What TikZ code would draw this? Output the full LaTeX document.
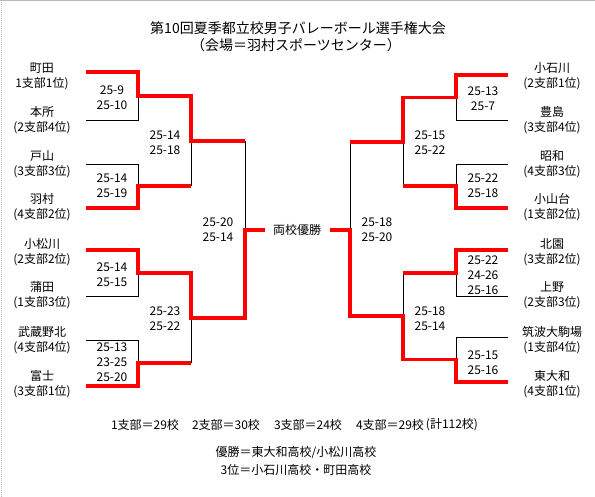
\documentclass[tikz,border=0pt]{standalone}
\usepackage{fontspec}
\setmainfont{Noto Sans CJK JP}
\begin{document}
\begin{tikzpicture}[x=1pt,y=-1pt,
  thin/.style={draw=black,line width=0.9pt},
  win/.style={draw=red,line width=3.6pt,line join=miter,line cap=butt},
  team/.style={align=center,font=\fontsize{12}{15}\selectfont,inner sep=0pt},
  score/.style={align=center,font=\fontsize{12}{15}\selectfont,inner sep=0pt},
  ttl/.style={font=\fontsize{14}{17}\selectfont,inner sep=0pt},
  foot/.style={font=\fontsize{12}{15}\selectfont,inner sep=0pt}]
\useasboundingbox (0,0) rectangle (595,497);
\fill[white] (0,0) rectangle (595,497);
\draw[gray!55,line width=1pt] (0,0.5) -- (595,0.5);
\draw[gray!55,line width=1pt,densely dotted] (1,0) -- (1,497);

% title
\node[ttl] (t1) at (298,28) {第10回夏季都立校男子バレーボール選手権大会};
\node[ttl] (t2) at (296,45) {（会場＝羽村スポーツセンター）};

% left teams
\node[team] (a1) at (42,76) {町田\\1支部1位)};
\node[team] (a2) at (42,120.5) {本所\\(2支部4位)};
\node[team] (a3) at (42,164.5) {戸山\\(3支部3位)};
\node[team] (a4) at (42,207.5) {羽村\\(4支部2位)};
\node[team] (a5) at (42,252.5) {小松川\\(2支部2位)};
\node[team] (a6) at (42,295.5) {蒲田\\(1支部3位)};
\node[team] (a7) at (42,340.5) {武蔵野北\\(4支部4位)};
\node[team] (a8) at (42,384.5) {富士\\(3支部1位)};
% right teams
\node[team] (b1) at (552,76) {小石川\\(2支部1位)};
\node[team] (b2) at (552,120.5) {豊島\\(3支部4位)};
\node[team] (b3) at (552,164.5) {昭和\\(4支部3位)};
\node[team] (b4) at (552,207.5) {小山台\\(1支部2位)};
\node[team] (b5) at (552,252.5) {北園\\(3支部2位)};
\node[team] (b6) at (552,295.5) {上野\\(2支部3位)};
\node[team] (b7) at (552,340.5) {筑波大駒場\\(1支部4位)};
\node[team] (b8) at (552,384.5) {東大和\\(4支部1位)};

\node[team] (champ) at (297,230) {両校優勝};

% left coordinates
\coordinate (la1) at (86,72);   \coordinate (lb1) at (138,72);
\coordinate (la2) at (86,120);  \coordinate (lb2) at (138,120);
\coordinate (la3) at (86,164);  \coordinate (lb3) at (138,164);
\coordinate (la4) at (86,208);  \coordinate (lb4) at (138,208);
\coordinate (la5) at (86,250);  \coordinate (lb5) at (138,250);
\coordinate (la6) at (86,296);  \coordinate (lb6) at (138,296);
\coordinate (la7) at (86,340);  \coordinate (lb7) at (138,340);
\coordinate (la8) at (86,386);  \coordinate (lb8) at (138,386);
\coordinate (lq1) at (138,96);  \coordinate (lq1e) at (191,96);
\coordinate (lq2) at (138,186); \coordinate (lq2e) at (191,186);
\coordinate (lq3) at (138,273); \coordinate (lq3e) at (191,273);
\coordinate (lq4) at (138,363); \coordinate (lq4e) at (191,363);
\coordinate (ls1) at (191,141); \coordinate (ls1e) at (245,141);
\coordinate (ls2) at (191,318); \coordinate (ls2e) at (245,318);
\coordinate (lf) at (245,230);  \coordinate (lfe) at (265,230);
% right coordinates
\coordinate (ra1) at (508,75);  \coordinate (rb1) at (456,75);
\coordinate (ra2) at (508,120); \coordinate (rb2) at (456,120);
\coordinate (ra3) at (508,164); \coordinate (rb3) at (456,164);
\coordinate (ra4) at (508,208); \coordinate (rb4) at (456,208);
\coordinate (ra5) at (508,250); \coordinate (rb5) at (456,250);
\coordinate (ra6) at (508,296); \coordinate (rb6) at (456,296);
\coordinate (ra7) at (508,337); \coordinate (rb7) at (456,337);
\coordinate (ra8) at (508,382); \coordinate (rb8) at (456,382);
\coordinate (rq1) at (456,97.5); \coordinate (rq1e) at (403,97.5);
\coordinate (rq2) at (456,186);  \coordinate (rq2e) at (403,186);
\coordinate (rq3) at (456,273);  \coordinate (rq3e) at (403,273);
\coordinate (rq4) at (456,359.5);\coordinate (rq4e) at (403,359.5);
\coordinate (rs1) at (403,142);  \coordinate (rs1e) at (350,142);
\coordinate (rs2) at (403,316);  \coordinate (rs2e) at (350,316);
\coordinate (rf) at (350,230);   \coordinate (rfe) at (330,230);

% thin (losing) lines
\draw[thin] (la2) -- (lb2) -- (lq1);
\draw[thin] (la3) -- (lb3) -- (lq2);
\draw[thin] (la6) -- (lb6) -- (lq3);
\draw[thin] (la7) -- (lb7) -- (lq4);
\draw[thin] (lq2e) -- (ls1);
\draw[thin] (lq4e) -- (ls2);
\draw[thin] (ls1e) -- (lf);
\draw[thin] (ra2) -- (rb2) -- (rq1);
\draw[thin] (ra3) -- (rb3) -- (rq2);
\draw[thin] (ra6) -- (rb6) -- (rq3);
\draw[thin] (ra7) -- (rb7) -- (rq4);
\draw[thin] (rq2e) -- (rs1);
\draw[thin] (rq3e) -- (rs2);
\draw[thin] (rs1e) -- (rf);

% winning paths
\draw[win] (la1) -- (lb1) -- (lq1) -- (lq1e) -- (ls1) -- (ls1e);
\draw[win] (la4) -- (lb4) -- (lq2) -- (lq2e);
\draw[win] (la5) -- (lb5) -- (lq3) -- (lq3e) -- (ls2) -- (ls2e) -- (lf) -- (lfe);
\draw[win] (la8) -- (lb8) -- (lq4) -- (lq4e);
\draw[win] (ra1) -- (rb1) -- (rq1) -- (rq1e) -- (rs1) -- (rs1e);
\draw[win] (ra4) -- (rb4) -- (rq2) -- (rq2e);
\draw[win] (ra5) -- (rb5) -- (rq3) -- (rq3e);
\draw[win] (ra8) -- (rb8) -- (rq4) -- (rq4e) -- (rs2) -- (rs2e) -- (rf) -- (rfe);

% scores
\node[score] (s1) at (112,97.5) {25-9\\25-10};
\node[score] (s2) at (112,185.5) {25-14\\25-19};
\node[score] (s3) at (112,274.5) {25-14\\25-15};
\node[score] (s4) at (112,362) {25-13\\23-25\\25-20};
\node[score] (s5) at (165,142.5) {25-14\\25-18};
\node[score] (s6) at (165,318.5) {25-23\\25-22};
\node[score] (s7) at (218,230) {25-20\\25-14};
\node[score] (s8) at (483,98.5) {25-13\\25-7};
\node[score] (s9) at (483,186) {25-22\\25-18};
\node[score] (s10) at (483,275) {25-22\\24-26\\25-16};
\node[score] (s11) at (483,362.5) {25-15\\25-16};
\node[score] (s12) at (430,142.5) {25-15\\25-22};
\node[score] (s13) at (430,318.5) {25-18\\25-14};
\node[score] (s14) at (377,230) {25-18\\25-20};

% footer
\node[foot] (f1) at (145,425) {1支部＝29校};
\node[foot] (f2) at (226,425) {2支部＝30校};
\node[foot] (f3) at (308,425) {3支部＝24校};
\node[foot] (f4) at (390,425) {4支部＝29校};
\node[foot] (f5) at (452,425) {(計112校)};
\node[foot] (f6) at (296,453) {優勝＝東大和高校/小松川高校};
\node[foot] (f7) at (296,470) {3位＝小石川高校・町田高校};
\end{tikzpicture}
\end{document}
